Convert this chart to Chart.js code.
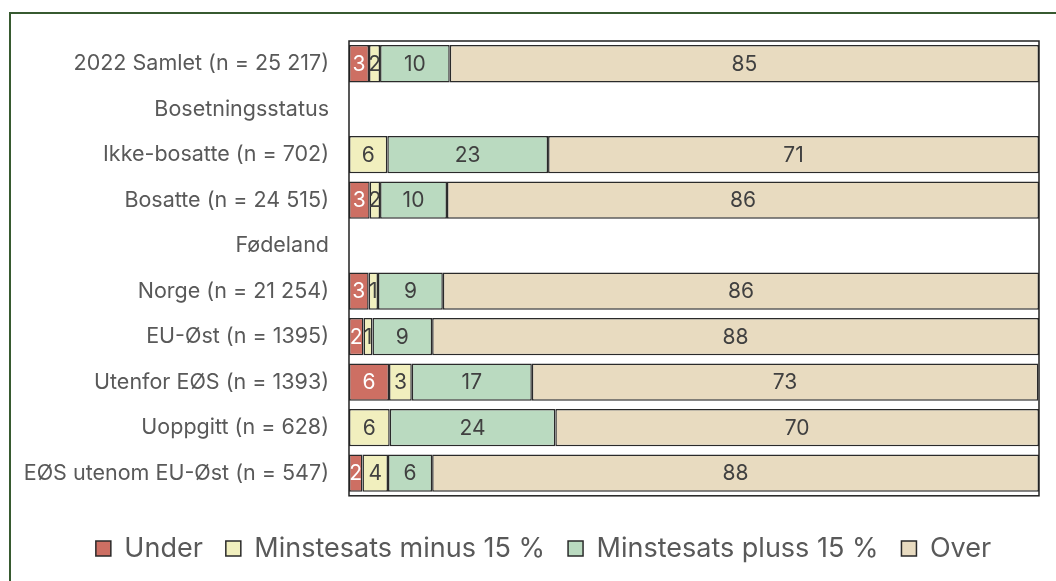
<!DOCTYPE html>
<html>
<head>
<meta charset="utf-8">
<script src="https://cdn.jsdelivr.net/npm/chart.js@4/dist/chart.umd.min.js"></script>
<style>
  body { margin: 0; background: #fff; overflow: hidden; }
  #frame { position: absolute; left: 9px; top: 12px; width: 1100px; height: 700px; border: 2px solid #375a30; }
  #wrap { position: absolute; left: 0; top: 0; width: 1056px; height: 581px; }
</style>
</head>
<body>
<div id="frame"></div>
<div id="wrap"><canvas id="chart"></canvas></div>
<script>
const categories = [
  '2022 Samlet (n = 25 217)',
  'Bosetningsstatus',
  'Ikke-bosatte (n = 702)',
  'Bosatte (n = 24 515)',
  'Fødeland',
  'Norge (n = 21 254)',
  'EU-Øst (n = 1395)',
  'Utenfor EØS (n = 1393)',
  'Uoppgitt (n = 628)',
  'EØS utenom EU-Øst (n = 547)'
];

// shares in percent
const under = [2.9, null, 0, 3.0, null, 2.85, 2.1, 5.8, 0, 1.95];
const minus15 = [1.6, null, 5.55, 1.5, null, 1.35, 1.3, 3.3, 5.9, 3.7];
const plus15 = [10.1, null, 23.3, 9.7, null, 9.4, 8.65, 17.4, 24.0, 6.4];
const over = [85.4, null, 71.15, 85.8, null, 86.4, 87.95, 73.4, 70.1, 87.95];

const seriesNames = ['Under', 'Minstesats minus 15 %', 'Minstesats pluss 15 %', 'Over'];
const colors = ['#cd6f63', '#f1efbe', '#badac0', '#e8dbc0'];
const labelColors = ['#ffffff', '#404040', '#404040', '#404040'];

const segmentLabels = {
  id: 'segmentLabels',
  afterDatasetsDraw(chart) {
    const ctx = chart.ctx;
    ctx.save();
    ctx.font = '21px Inter';
    ctx.textAlign = 'center';
    ctx.textBaseline = 'middle';
    chart.data.datasets.forEach((ds, i) => {
      const meta = chart.getDatasetMeta(i);
      meta.data.forEach((bar, j) => {
        const v = ds.data[j];
        if (v == null || v === 0) return;
        ctx.fillStyle = labelColors[i];
        ctx.fillText(String(Math.round(v)), (bar.x + bar.base) / 2, bar.y + 1);
      });
    });
    ctx.restore();
  }
};

const plotBorder = {
  id: 'plotBorder',
  afterDatasetsDraw(chart) {
    const a = chart.chartArea;
    const ctx = chart.ctx;
    ctx.save();
    ctx.strokeStyle = '#222';
    ctx.lineWidth = 1.5;
    ctx.strokeRect(a.left, a.top, a.right - a.left, a.bottom - a.top);
    ctx.restore();
  }
};

// legend sits a bit right of centre in the original
const legendShift = {
  id: 'legendShift',
  afterLayout(chart) {
    chart.legend.left += 24;
    chart.legend.right += 24;
  }
};

const data = {
  labels: categories,
  datasets: [under, minus15, plus15, over].map((d, i) => ({
    label: seriesNames[i],
    data: d,
    backgroundColor: colors[i],
    borderColor: '#2a2a2a',
    borderWidth: 1.5,
    borderSkipped: false,
    barPercentage: 0.82,
    categoryPercentage: 1.0
  }))
};

new Chart(document.getElementById('chart'), {
  type: 'bar',
  data: data,
  plugins: [segmentLabels, plotBorder, legendShift],
  options: {
    indexAxis: 'y',
    responsive: true,
    maintainAspectRatio: false,
    animation: false,
    layout: { padding: { top: 41, right: 17, left: 0, bottom: 9 } },
    scales: {
      x: {
        stacked: true,
        min: 0,
        max: 100,
        display: false
      },
      y: {
        stacked: true,
        grid: { display: false, drawTicks: false },
        border: { display: false },
        afterFit(scale) { scale.width = 349; },
        ticks: {
          color: '#595959',
          font: { family: 'Inter', size: 21.5 },
          padding: 20
        }
      }
    },
    plugins: {
      tooltip: { enabled: false },
      legend: {
        position: 'bottom',
        title: { display: true, text: ' ', font: { size: 13.5 }, padding: 0 },
        labels: {
          color: '#595959',
          font: { family: 'Inter', size: 27 },
          boxWidth: 15,
          boxHeight: 15,
          padding: 23
        }
      }
    }
  }
});
</script>
</body>
</html>
